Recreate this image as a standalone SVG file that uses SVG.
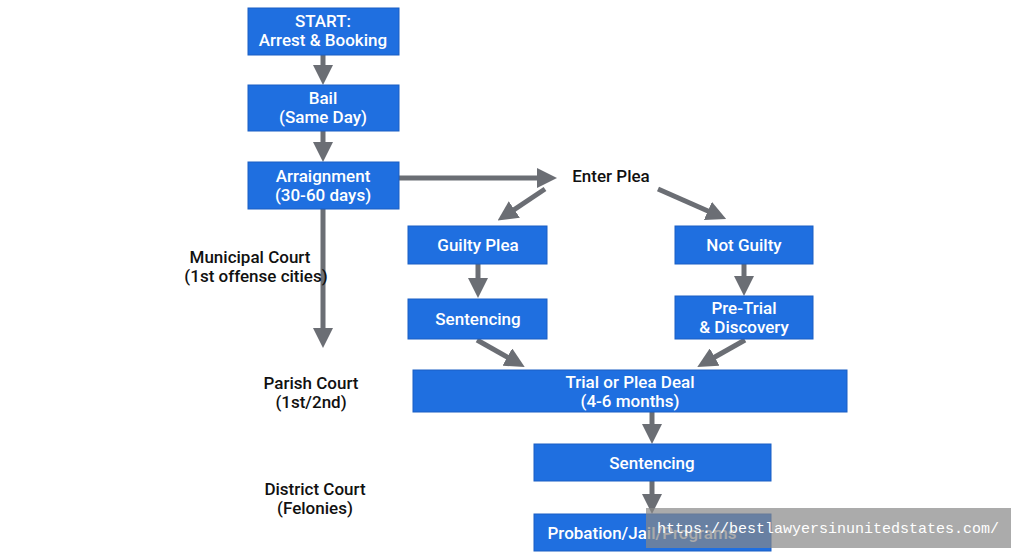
<svg xmlns="http://www.w3.org/2000/svg" width="1024" height="559" viewBox="0 0 1024 559">
<defs>
<style>
.n{fill:#1f6fe0;stroke:#1a5fc4;stroke-width:1}
.t{font-family:"Roboto","Liberation Sans",sans-serif;font-size:17px;font-weight:500;fill:#fff;text-anchor:middle}
.l{font-family:"Roboto","Liberation Sans",sans-serif;font-size:17px;font-weight:500;fill:#111;text-anchor:middle}
.c{stroke:#6b6e74;stroke-width:5;fill:none;marker-end:url(#a)}
</style>
<marker id="a" markerWidth="4" markerHeight="4" refX="2" refY="2" orient="auto" markerUnits="strokeWidth"><path d="M0,0L4,2L0,4Z" fill="#6b6e74"/></marker>
</defs>
<rect width="1024" height="559" fill="#fff"/>
<g id="connectors">
<line class="c" x1="323" y1="55" x2="323" y2="75"/>
<line class="c" x1="323" y1="131" x2="323" y2="152"/>
<line class="c" x1="323" y1="209" x2="323" y2="338"/>
<line class="c" x1="399" y1="178" x2="547" y2="178"/>
<line class="c" x1="545" y1="189" x2="506" y2="215"/>
<line class="c" x1="658" y1="189" x2="717" y2="215"/>
<line class="c" x1="478" y1="264" x2="478" y2="288"/>
<line class="c" x1="744" y1="264" x2="744" y2="286"/>
<line class="c" x1="477" y1="340" x2="516" y2="362"/>
<line class="c" x1="745" y1="340" x2="706" y2="362"/>
<line class="c" x1="652" y1="412" x2="652" y2="434"/>
<line class="c" x1="652" y1="481" x2="652" y2="504"/>
</g>
<g id="start"><rect class="n" x="248" y="8" width="151" height="47"/><text class="t" x="323" y="27">START:</text><text class="t" x="323" y="46">Arrest &amp; Booking</text></g>
<g id="bail"><rect class="n" x="248" y="85" width="151" height="46"/><text class="t" x="323" y="104">Bail</text><text class="t" x="323" y="123">(Same Day)</text></g>
<g id="arraignment"><rect class="n" x="248" y="162" width="151" height="47"/><text class="t" x="323" y="182">Arraignment</text><text class="t" x="323" y="201">(30-60 days)</text></g>
<g id="enterplea"><text class="l" x="611" y="182">Enter Plea</text></g>
<g id="guilty"><rect class="n" x="408" y="226" width="139" height="38"/><text class="t" x="478" y="251">Guilty Plea</text></g>
<g id="notguilty"><rect class="n" x="675" y="226" width="138" height="38"/><text class="t" x="744" y="251">Not Guilty</text></g>
<g id="sentencing1"><rect class="n" x="408" y="299" width="139" height="40"/><text class="t" x="478" y="325">Sentencing</text></g>
<g id="pretrial"><rect class="n" x="675" y="296" width="138" height="43"/><text class="t" x="744" y="314">Pre-Trial</text><text class="t" x="744" y="333">&amp; Discovery</text></g>
<g id="trial"><rect class="n" x="413" y="370" width="434" height="42"/><text class="t" x="630" y="388">Trial or Plea Deal</text><text class="t" x="630" y="407">(4-6 months)</text></g>
<g id="sentencing2"><rect class="n" x="534" y="444" width="237" height="37"/><text class="t" x="652" y="469">Sentencing</text></g>
<g id="probation"><rect class="n" x="534" y="514" width="237" height="37"/><text class="t" x="642" y="539">Probation/Jail/Programs</text></g>
<g id="labels">
<text class="l" x="250" y="263">Municipal Court</text><text class="l" x="256" y="282">(1st offense cities)</text>
<text class="l" x="311" y="389">Parish Court</text><text class="l" x="311" y="408">(1st/2nd)</text>
<text class="l" x="315" y="495">District Court</text><text class="l" x="315" y="514">(Felonies)</text>
</g>
<g id="watermark"><rect x="646" y="508" width="365" height="40" fill="#888" fill-opacity="0.7"/><text x="828" y="533" font-family="Liberation Mono,monospace" font-size="15" fill="#fff" text-anchor="middle">https://bestlawyersinunitedstates.com/</text></g>
</svg>
